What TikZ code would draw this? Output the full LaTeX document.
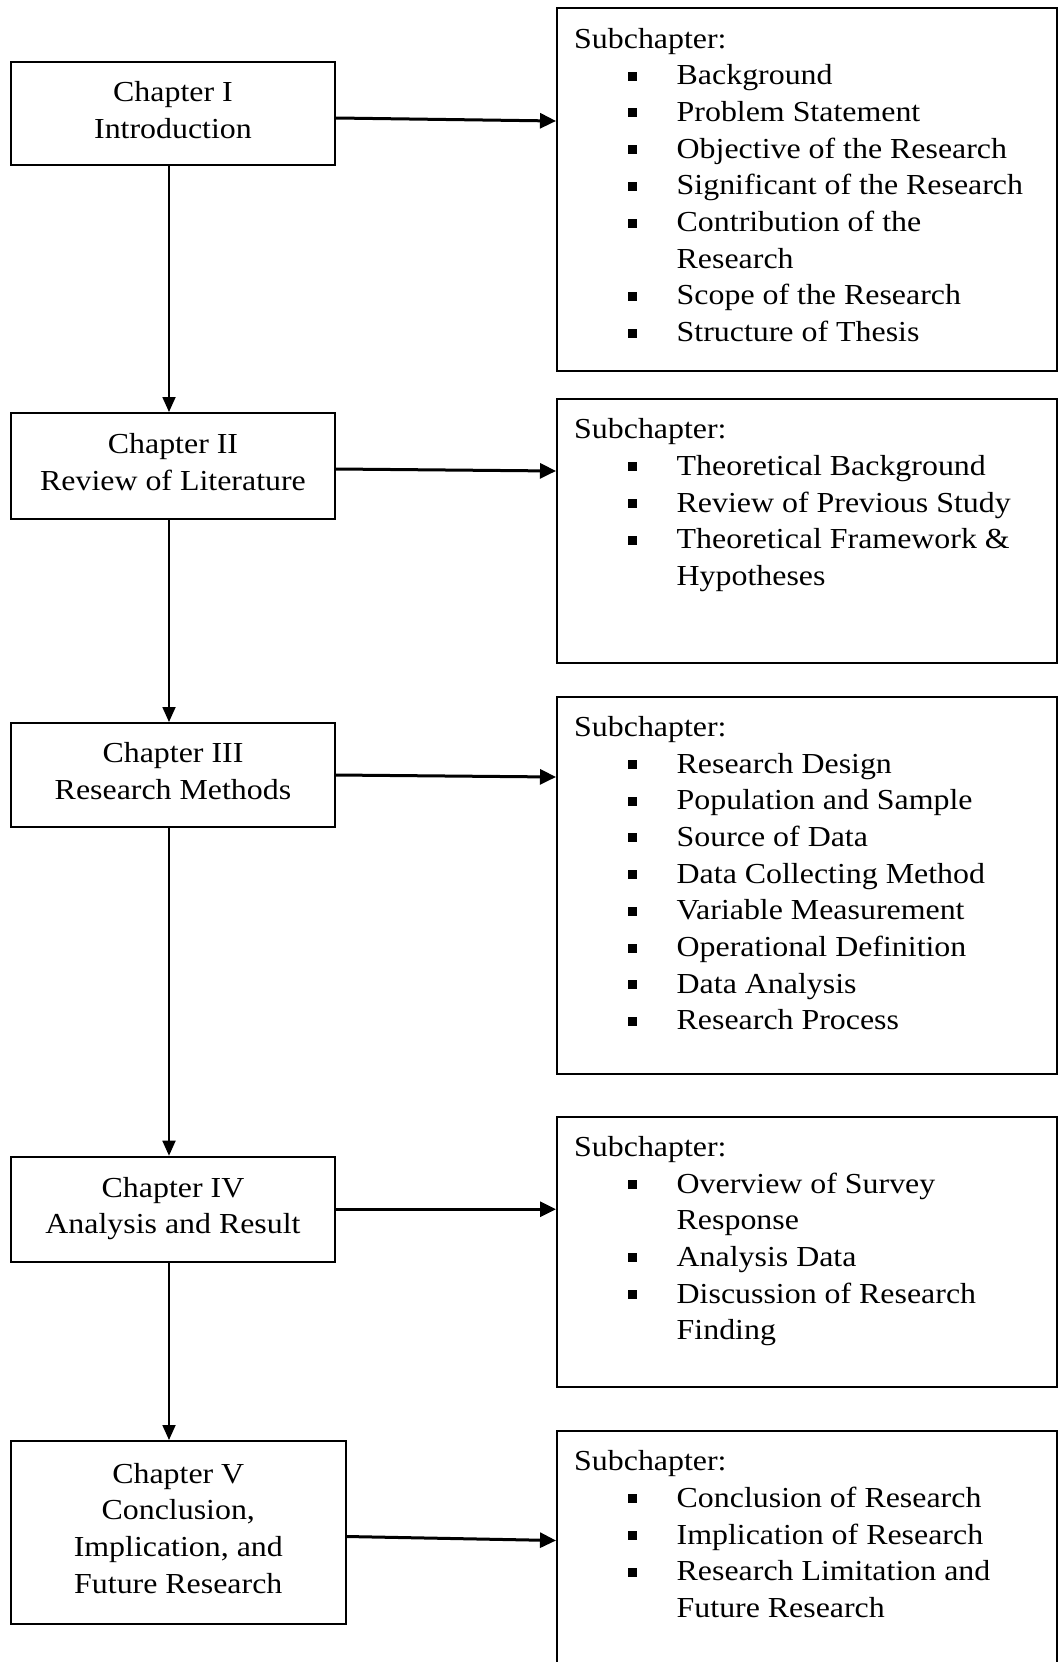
\documentclass[tikz,border=0pt]{standalone}
\usepackage{fontspec}
\setmainfont{Liberation Serif}[FakeStretch=1.1]
\usetikzlibrary{arrows.meta,calc}
\newcommand\bitem[1]{\hspace*{54pt}\raisebox{4pt}{\rule{9pt}{9pt}}\hspace*{39.5pt}#1}
\newcommand\bcont[1]{\hspace*{102.5pt}#1}
\newcommand\firststrut{\rule{0pt}{26pt}}
\newcommand\laststrut{\rule[-7.5pt]{0pt}{7.5pt}}
\tikzset{
  x=1pt, y=-1pt,
  txt/.style={font=\fontsize{29}{36.7}\selectfont},
  lbox/.style={txt, draw, line width=2pt, align=center, inner sep=0pt, minimum width=324pt},
  rbox/.style={draw, line width=2pt, minimum width=500pt, inner sep=0pt},
  rtext/.style={txt, anchor=north west, align=left, inner sep=0pt},
  harr/.style={line width=3pt, -{Triangle[length=16pt,width=15pt]}},
  varr/.style={line width=1.8pt, -{Triangle[length=15pt,width=13pt]}},
}
\begin{document}
\begin{tikzpicture}
\useasboundingbox (0,0) rectangle (1059,1662);
\clip (0,0) rectangle (1059,1662);
\fill[white] (0,0) rectangle (1059,1662);

% left chapter boxes
\node[lbox, minimum height=103pt] (b1) at (173,113.5) {Chapter I\\Introduction\laststrut};
\node[lbox, minimum height=106pt] (b2) at (173,466) {Chapter II\\Review of Literature\laststrut};
\node[lbox, minimum height=104pt] (b3) at (173,775) {Chapter III\\Research Methods\laststrut};
\node[lbox, minimum height=105pt] (b4) at (173,1209.2) {Chapter IV\\Analysis and Result\laststrut};
\node[lbox, minimum height=183pt, minimum width=335pt] (b5) at (178.3,1532.5) {Chapter V\\Conclusion,\\Implication, and\\Future Research\rule[-9pt]{0pt}{9pt}};

% right subchapter boxes
\node[rbox, minimum height=362.7pt] (r1) at (807,189.7) {};
\node[rbox, minimum height=264pt] (r2) at (807,531) {};
\node[rbox, minimum height=377.3pt] (r3) at (807,885.3) {};
\node[rbox, minimum height=270.3pt] (r4) at (807,1251.8) {};
\node[rbox, minimum height=269pt] (r5) at (807,1565.5) {};

% right texts
\node[rtext] (t1) at ($(r1.north west -| 574,0)+(0,14.5)$) {\firststrut Subchapter:\\
\bitem{Background}\\
\bitem{Problem Statement}\\
\bitem{Objective of the Research}\\
\bitem{Significant of the Research}\\
\bitem{Contribution of the}\\
\bcont{Research}\\
\bitem{Scope of the Research}\\
\bitem{Structure of Thesis}};

\node[rtext] (t2) at ($(r2.north west -| 574,0)+(0,14.5)$) {\firststrut Subchapter:\\
\bitem{Theoretical Background}\\
\bitem{Review of Previous Study}\\
\bitem{Theoretical Framework \&}\\
\bcont{Hypotheses}};

\node[rtext] (t3) at ($(r3.north west -| 574,0)+(0,14.5)$) {\firststrut Subchapter:\\
\bitem{Research Design}\\
\bitem{Population and Sample}\\
\bitem{Source of Data}\\
\bitem{Data Collecting Method}\\
\bitem{Variable Measurement}\\
\bitem{Operational Definition}\\
\bitem{Data Analysis}\\
\bitem{Research Process}};

\node[rtext] (t4) at ($(r4.north west -| 574,0)+(0,14.5)$) {\firststrut Subchapter:\\
\bitem{Overview of Survey}\\
\bcont{Response}\\
\bitem{Analysis Data}\\
\bitem{Discussion of Research}\\
\bcont{Finding}};

\node[rtext] (t5) at ($(r5.north west -| 574,0)+(0,14.5)$) {\firststrut Subchapter:\\
\bitem{Conclusion of Research}\\
\bitem{Implication of Research}\\
\bitem{Research Limitation and}\\
\bcont{Future Research}};

% vertical connectors
\coordinate (vx) at (169,0);
\draw[varr] (b1.south -| vx) -- (b2.north -| vx);
\draw[varr] (b2.south -| vx) -- (b3.north -| vx);
\draw[varr] (b3.south -| vx) -- (b4.north -| vx);
\draw[varr] (b4.south -| vx) -- (b5.north -| vx);

% horizontal connectors
\draw[harr] ($(b1.east)+(0,4.5)$) -- ($(r1.west |- b1.east)+(0,7.5)$);
\draw[harr] ($(b2.east)+(0,3)$) -- ($(r2.west |- b2.east)+(0,5)$);
\draw[harr] ($(b3.east)+(0,0)$) -- ($(r3.west |- b3.east)+(0,2)$);
\draw[harr] ($(b4.east)+(0,0)$) -- ($(r4.west |- b4.east)+(0,0)$);
\draw[harr] ($(b5.east)+(0,4)$) -- ($(r5.west |- b5.east)+(0,8)$);
\end{tikzpicture}
\end{document}
